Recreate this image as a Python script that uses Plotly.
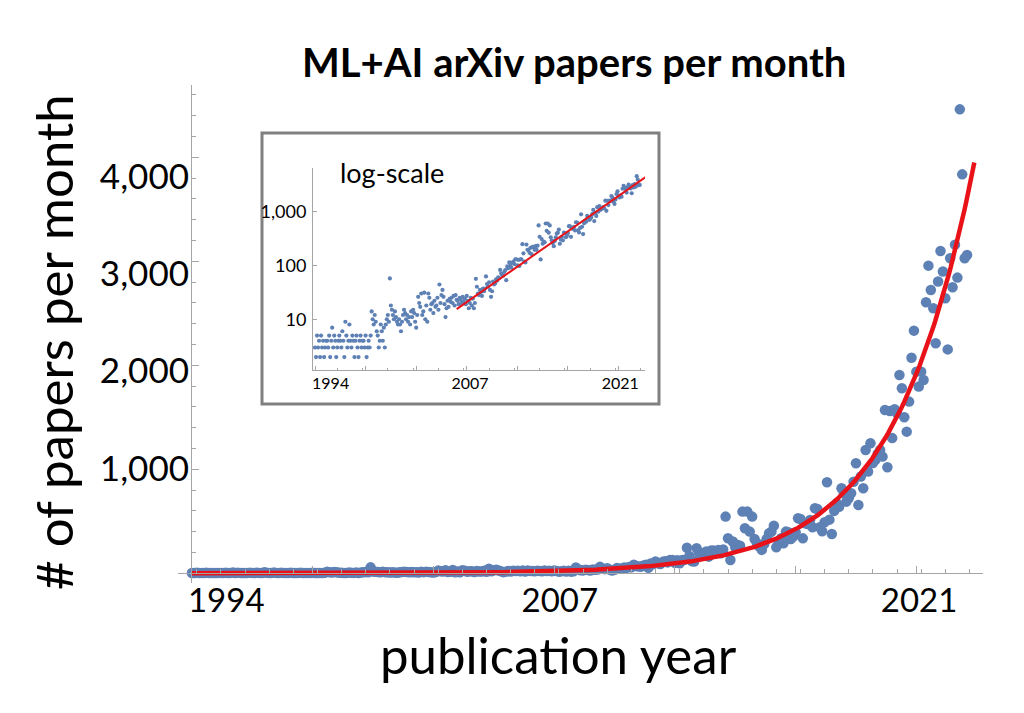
import numpy as np
import plotly.graph_objects as go

# ---------------- data: ML+AI arXiv papers per month (Jan..Dec) ----------------
START_YEAR = 1994
papers_1994 = [3, 2, 5, 3, 4, 2, 5, 3, 4, 2, 3, 4]
papers_1995 = [4, 3, 5, 2, 4, 7, 3, 5, 4, 2, 3, 4]
papers_1996 = [5, 4, 3, 6, 4, 2, 9, 5, 3, 4, 8, 4]
papers_1997 = [3, 5, 4, 2, 4, 5, 3, 2, 4, 5, 3, 4]
papers_1998 = [4, 3, 5, 2, 3, 4, 3, 5, 14, 10, 8, 12]
papers_1999 = [9, 6, 5, 3, 4, 8, 6, 4, 7, 3, 8, 10]
papers_2000 = [12, 9, 57, 18, 15, 12, 10, 14, 11, 9, 8, 10]
papers_2001 = [8, 6, 9, 12, 15, 13, 10, 12, 9, 11, 8, 14]
papers_2002 = [11, 15, 13, 9, 7, 12, 26, 20, 17, 30, 12, 14]
papers_2003 = [31, 10, 18, 9, 30, 25, 15, 19, 20, 13, 22, 17]
papers_2004 = [18, 25, 15, 44, 20, 28, 35, 26, 19, 11, 16, 22]
papers_2005 = [17, 24, 21, 25, 20, 27, 18, 28, 23, 22, 19, 25]
papers_2006 = [23, 20, 26, 21, 24, 19, 27, 22, 16, 20, 25, 18]
papers_2007 = [24, 16, 20, 56, 40, 30, 28, 35, 32, 27, 37, 33]
papers_2008 = [37, 62, 45, 40, 48, 35, 26, 33, 50, 44, 46, 55]
papers_2009 = [52, 60, 58, 82, 70, 66, 64, 75, 81, 53, 95, 88]
papers_2010 = [113, 97, 90, 110, 117, 105, 129, 129, 100, 125, 97, 128]
papers_2011 = [129, 245, 166, 117, 113, 241, 193, 192, 170, 210, 160, 218]
papers_2012 = [218, 193, 225, 193, 230, 545, 337, 128, 305, 250, 273, 266]
papers_2013 = [593, 433, 593, 401, 545, 330, 289, 257, 225, 282, 330, 385]
papers_2014 = [401, 458, 250, 298, 337, 289, 401, 394, 330, 353, 394, 529]
papers_2015 = [522, 336, 481, 474, 513, 442, 625, 618, 442, 404, 490, 875]
papers_2016 = [516, 378, 600, 674, 640, 817, 769, 689, 721, 770, 881, 1058]
papers_2017 = [657, 930, 817, 1186, 978, 1250, 1060, 1090, 1150, 1186, 1122, 1570]
papers_2018 = [1019, 1561, 1300, 1577, 1538, 1907, 1779, 1500, 1362, 1651, 2073, 2333]
papers_2019 = [1939, 1795, 1939, 1859, 2606, 2958, 2724, 2548, 2212, 2805, 3099, 2901]
papers_2020 = [2644, 2153, 3029, 2750, 3160, 2843, 4461, 3836, 3029, 3061]

# exponential fit shown in red (parameters)
FIT_REF_YEAR = 2021.0
FIT_VALUE_AT_REF = 3950
FIT_DOUBLING_MONTHS = 23
MAIN_FIT_YEARS = [1994.0, 2021.0]
INSET_FIT_YEARS = [2005.67, 2021.25]

# tick labels
MAIN_X_TICKS = [1994, 2007, 2021]
MAIN_Y_TICKS = [1000, 2000, 3000, 4000]
INSET_X_TICKS = [1994, 2007, 2021]
INSET_Y_TICKS = [10, 100, 1000]
INSET_Y_TEXT = ["10", "100", "1,000"]

TITLE = "ML+AI arXiv papers per month"
X_TITLE = "publication year"
Y_TITLE = "# of papers per month"
INSET_NOTE = "log-scale"

# ---------------- assemble ----------------
blocks = [papers_1994, papers_1995, papers_1996, papers_1997, papers_1998, papers_1999,
          papers_2000, papers_2001, papers_2002, papers_2003, papers_2004, papers_2005,
          papers_2006, papers_2007, papers_2008, papers_2009, papers_2010, papers_2011,
          papers_2012, papers_2013, papers_2014, papers_2015, papers_2016, papers_2017,
          papers_2018, papers_2019, papers_2020]
counts = np.array([v for b in blocks for v in b], dtype=float)
years = START_YEAR + np.arange(len(counts)) / 12.0


def fit(t):
    return FIT_VALUE_AT_REF * 2.0 ** ((t - FIT_REF_YEAR) * 12.0 / FIT_DOUBLING_MONTHS)


t_main = np.linspace(MAIN_FIT_YEARS[0], MAIN_FIT_YEARS[1], 400)
t_inset = np.linspace(INSET_FIT_YEARS[0], INSET_FIT_YEARS[1], 100)

W, H = 1024, 713


def fx(px):
    return px / W


def fy(py):
    return 1 - py / H


BLUE = "rgb(94,129,181)"
RED = "rgb(232,18,24)"
AXIS = "rgb(165,165,165)"
FONT = "Lato"

fig = go.Figure()
# main plot
fig.add_trace(go.Scatter(x=years, y=counts, mode="markers", xaxis="x", yaxis="y",
                         marker=dict(color=BLUE, size=10.5, line=dict(width=0)),
                         showlegend=False, hoverinfo="skip"))
fig.add_trace(go.Scatter(x=t_main, y=fit(t_main), mode="lines", xaxis="x", yaxis="y",
                         line=dict(color=RED, width=4.5), showlegend=False, hoverinfo="skip"))
# label axes (empty trace so the overlay axes exist)
fig.add_trace(go.Scatter(x=[], y=[], xaxis="x2", yaxis="y2", showlegend=False, hoverinfo="skip"))
# inset
fig.add_trace(go.Scatter(x=years, y=counts, mode="markers", xaxis="x3", yaxis="y3",
                         marker=dict(color=BLUE, size=4.2, line=dict(width=0)),
                         showlegend=False, hoverinfo="skip"))
fig.add_trace(go.Scatter(x=t_inset, y=fit(t_inset), mode="lines", xaxis="x3", yaxis="y3",
                         line=dict(color=RED, width=2), showlegend=False, hoverinfo="skip"))
fig.add_trace(go.Scatter(x=[], y=[], xaxis="x4", yaxis="y3", showlegend=False, hoverinfo="skip"))

main_xdom = [fx(178), fx(983)]
main_ydom = [fy(583), fy(85)]
inset_xdom = [fx(313), fx(645)]
inset_ydom = [fy(370), fy(168)]

fig.update_layout(
    width=W, height=H,
    margin=dict(l=0, r=0, t=0, b=0),
    paper_bgcolor="white", plot_bgcolor="rgba(0,0,0,0)",
    font=dict(family=FONT, color="black"),
    xaxis=dict(domain=main_xdom, range=[1993.52, 2021.30], anchor="free", position=fy(573.3),
               showgrid=False, zeroline=False, showline=True, linecolor=AXIS, linewidth=1.3,
               ticks="inside", ticklen=7, tickcolor=AXIS, tickwidth=1.2,
               tick0=1994, dtick=50 / 12,
               minor=dict(ticks="inside", ticklen=4, tickcolor=AXIS, dtick=10 / 12, showgrid=False),
               showticklabels=False),
    yaxis=dict(domain=main_ydom, range=[-93.3, 4695], anchor="free", position=fx(191),
               showgrid=False, zeroline=False, showline=True, linecolor=AXIS, linewidth=1.3,
               ticks="inside", ticklen=7, tickcolor=AXIS, tickwidth=1.2,
               tick0=0, dtick=1000,
               minor=dict(ticks="inside", ticklen=4, tickcolor=AXIS, dtick=200, showgrid=False),
               showticklabels=False),
    xaxis2=dict(overlaying="x", domain=main_xdom, range=[1992.12, 2023.49], anchor="free",
                position=fy(573.3), showgrid=False, zeroline=False, showline=False, ticks="",
                tickvals=MAIN_X_TICKS, ticktext=[str(v) for v in MAIN_X_TICKS],
                tickfont=dict(size=33, family=FONT), ticklabelstandoff=5),
    yaxis2=dict(overlaying="y", domain=main_ydom, range=[-174.5, 4938.4], anchor="free",
                position=fx(191), showgrid=False, zeroline=False, showline=False, ticks="",
                tickvals=MAIN_Y_TICKS, ticktext=[f"{v:,}" for v in MAIN_Y_TICKS],
                tickfont=dict(size=35, family=FONT), ticklabelstandoff=2),
    xaxis3=dict(domain=inset_xdom, range=[1993.835, 2021.18], anchor="y3",
                showgrid=False, zeroline=False, showline=True, linecolor=AXIS, linewidth=1,
                ticks="inside", ticklen=4, tickcolor=AXIS, tick0=1994, dtick=50 / 12,
                minor=dict(ticks="inside", ticklen=2, tickcolor=AXIS, dtick=25 / 12, showgrid=False),
                showticklabels=False),
    xaxis4=dict(overlaying="x3", domain=inset_xdom, range=[1992.36, 2023.3], anchor="y3",
                showgrid=False, zeroline=False, showline=False, ticks="",
                tickvals=INSET_X_TICKS, ticktext=[str(v) for v in INSET_X_TICKS],
                tickfont=dict(size=16, family=FONT), ticklabelstandoff=2),
    yaxis3=dict(domain=inset_ydom, type="log", range=[0.061, 3.80], anchor="x3",
                showgrid=False, zeroline=False, showline=True, linecolor=AXIS, linewidth=1,
                ticks="inside", ticklen=4, tickcolor=AXIS,
                tickvals=INSET_Y_TICKS, ticktext=INSET_Y_TEXT,
                tickfont=dict(size=18, family=FONT), ticklabelstandoff=2),
)

fig.add_shape(type="rect", xref="paper", yref="paper",
              x0=fx(262), x1=fx(659), y0=fy(404), y1=fy(133),
              line=dict(color="rgb(128,128,128)", width=3), fillcolor="rgba(0,0,0,0)", layer="below")

fig.add_annotation(text=f"<b>{TITLE}</b>", xref="paper", yref="paper", x=fx(574), y=fy(62),
                   xanchor="center", yanchor="middle", showarrow=False,
                   font=dict(size=40, family=FONT, color="black"))
fig.add_annotation(text=X_TITLE, xref="paper", yref="paper", x=fx(558), y=fy(654),
                   xanchor="center", yanchor="middle", showarrow=False,
                   font=dict(size=51, family=FONT, color="black"))
fig.add_annotation(text=Y_TITLE, xref="paper", yref="paper", x=fx(54), y=fy(342),
                   xanchor="center", yanchor="middle", showarrow=False, textangle=-90,
                   font=dict(size=51, family=FONT, color="black"))
fig.add_annotation(text=INSET_NOTE, xref="paper", yref="paper", x=fx(392), y=fy(172),
                   xanchor="center", yanchor="middle", showarrow=False,
                   font=dict(size=27, family=FONT, color="black"))

fig.write_html("out.html")
